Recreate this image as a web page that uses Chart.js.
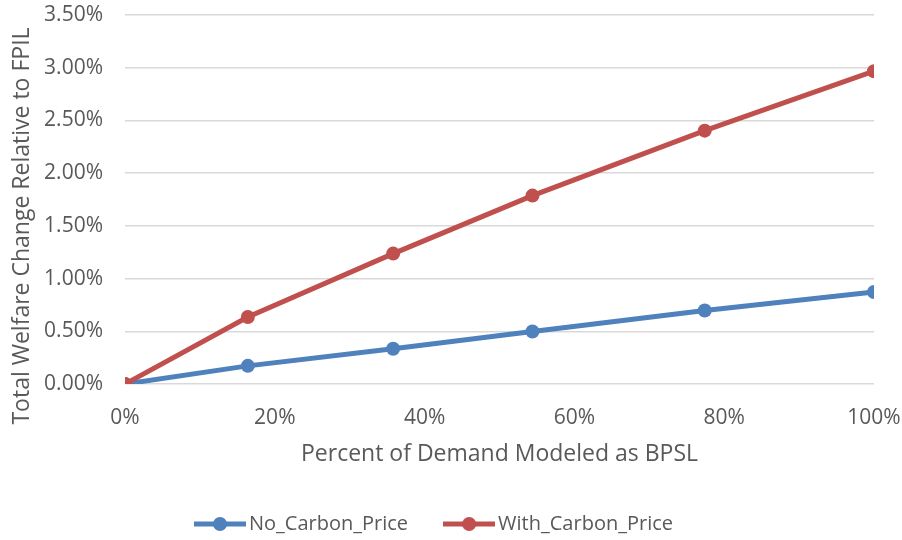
<!DOCTYPE html>
<html>
<head>
<meta charset="utf-8">
<script src="https://cdn.jsdelivr.net/npm/chart.js@4/dist/chart.umd.min.js"></script>
<style>
  html, body { margin: 0; padding: 0; background: #ffffff; }
  #wrap { width: 902px; height: 540px; position: relative; }
</style>
</head>
<body>
<div id="wrap"><canvas id="chart" width="902" height="540"></canvas></div>
<script>
// Share of demand modeled as BPSL (%)
const demandShare = [0, 16.4, 35.8, 54.4, 77.4, 100];
// Total welfare change relative to FPIL (%)
const noCarbonPrice   = [0, 0.172, 0.335, 0.498, 0.697, 0.872];
const withCarbonPrice = [0, 0.636, 1.237, 1.787, 2.403, 2.967];

const seriesNames = ['No_Carbon_Price', 'With_Carbon_Price'];
const seriesColors = ['#4F81BD', '#C0504D'];

const xTitle = 'Percent of Demand Modeled as BPSL';
const yTitle = 'Total Welfare Change Relative to FPIL';

const FONT = '"Open Sans", "Noto Sans", sans-serif';
const TEXT = '#595959';

function toPoints(values) {
  return demandShare.map((x, i) => ({ x: x, y: values[i] }));
}

// Legend symbol: short line with a dot in the middle
function legendSymbol(color) {
  const c = document.createElement('canvas');
  c.width = 52; c.height = 16;
  const g = c.getContext('2d');
  g.strokeStyle = color; g.lineWidth = 5; g.lineCap = 'butt';
  g.beginPath(); g.moveTo(0, 8); g.lineTo(52, 8); g.stroke();
  g.fillStyle = color;
  g.beginPath(); g.arc(26, 8, 7, 0, Math.PI * 2); g.fill();
  return c;
}

// Vertical axis title, centred on the whole chart height
const yTitlePlugin = {
  id: 'yTitlePlugin',
  afterDraw(chart) {
    const ctx = chart.ctx;
    ctx.save();
    ctx.translate(22, 226);
    ctx.rotate(-Math.PI / 2);
    ctx.font = '23px ' + FONT;
    ctx.fillStyle = TEXT;
    ctx.textAlign = 'center';
    ctx.textBaseline = 'middle';
    ctx.fillText(yTitle, 0, 0);
    ctx.restore();
  }
};

const datasets = [noCarbonPrice, withCarbonPrice].map((vals, i) => ({
  label: seriesNames[i],
  data: toPoints(vals),
  borderColor: seriesColors[i],
  backgroundColor: seriesColors[i],
  borderWidth: 5,
  pointRadius: 7,
  pointHoverRadius: 7,
  pointBorderWidth: 0,
  pointStyle: 'circle',
  tension: 0,
  order: 1 - i
}));

new Chart(document.getElementById('chart'), {
  type: 'line',
  data: { datasets: datasets },
  options: {
    responsive: false,
    animation: false,
    layout: { padding: { left: 0, right: 28, top: 15, bottom: -4 } },
    plugins: {
      legend: {
        position: 'bottom',
        labels: {
          usePointStyle: true,
          pointStyleWidth: 38,
          boxHeight: 16,
          padding: 42,
          color: TEXT,
          font: { family: FONT, size: 20 },
          generateLabels(chart) {
            return chart.data.datasets.map((ds, i) => ({
              text: ds.label,
              fillStyle: ds.borderColor,
              strokeStyle: ds.borderColor,
              lineWidth: 0,
              pointStyle: legendSymbol(ds.borderColor),
              datasetIndex: i,
              fontColor: TEXT
            }));
          }
        }
      },
      tooltip: { enabled: false }
    },
    scales: {
      x: {
        type: 'linear',
        min: 0, max: 100,
        afterFit(scale) {
          scale.height = 88;
          scale.paddingLeft = 0;
          scale.paddingRight = 0;
        },
        ticks: {
          stepSize: 20,
          padding: 21,
          color: TEXT,
          font: { family: FONT, size: 21 },
          callback: v => v + '%'
        },
        grid: { display: false, drawTicks: false },
        border: { display: false },
        title: {
          display: true,
          text: xTitle,
          color: TEXT,
          font: { family: FONT, size: 23 },
          padding: { top: 0, bottom: 4 }
        }
      },
      y: {
        min: 0, max: 3.5,
        afterFit(scale) {
          scale.width = 125;
          scale.paddingTop = 0;
          scale.paddingBottom = 0;
        },
        ticks: {
          stepSize: 0.5,
          padding: 22,
          color: TEXT,
          font: { family: FONT, size: 21 },
          callback: v => v.toFixed(2) + '%'
        },
        grid: { color: '#D9D9D9', lineWidth: 1.5, drawTicks: false },
        border: { display: false }
      }
    }
  },
  plugins: [yTitlePlugin]
});
</script>
</body>
</html>
